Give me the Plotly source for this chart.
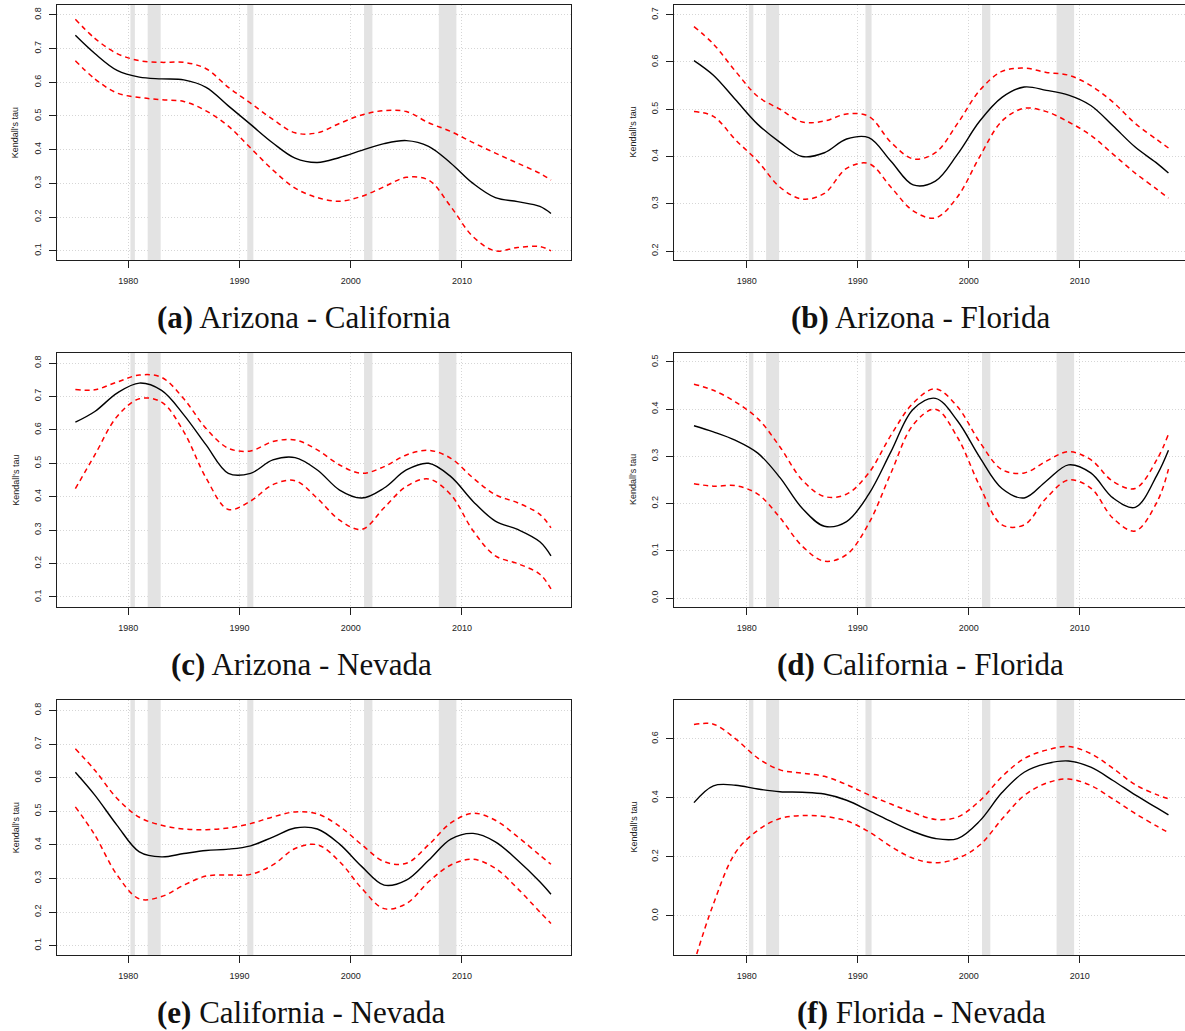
import plotly.graph_objects as go

# ---------------- data ----------------
YEARS = [1975.25, 1977, 1979, 1981, 1983, 1985, 1987, 1989, 1991, 1993, 1995, 1997,
         1999, 2001, 2003, 2005, 2007, 2009, 2011, 2013, 2015, 2017, 2018]

# (a) Arizona - California
TAU_A = [0.739, 0.685, 0.635, 0.615, 0.610, 0.607, 0.585, 0.530, 0.475, 0.420, 0.375, 0.362,
         0.377, 0.398, 0.418, 0.427, 0.410, 0.360, 0.300, 0.258, 0.246, 0.232, 0.211]
UP_A = [0.787, 0.730, 0.685, 0.664, 0.659, 0.659, 0.640, 0.585, 0.538, 0.490, 0.450, 0.450,
        0.478, 0.503, 0.516, 0.513, 0.480, 0.454, 0.421, 0.390, 0.360, 0.330, 0.310]
LO_A = [0.664, 0.610, 0.568, 0.555, 0.548, 0.543, 0.515, 0.470, 0.405, 0.340, 0.286, 0.258,
        0.247, 0.262, 0.290, 0.318, 0.310, 0.231, 0.142, 0.100, 0.110, 0.113, 0.100]

# (b) Arizona - Florida
TAU_B = [0.603, 0.572, 0.520, 0.468, 0.430, 0.400, 0.408, 0.437, 0.440, 0.390, 0.340, 0.348,
         0.405, 0.475, 0.525, 0.547, 0.540, 0.530, 0.508, 0.465, 0.420, 0.385, 0.365]
UP_B = [0.675, 0.638, 0.580, 0.527, 0.500, 0.473, 0.475, 0.490, 0.485, 0.430, 0.395, 0.408,
        0.470, 0.540, 0.580, 0.587, 0.578, 0.572, 0.550, 0.515, 0.470, 0.435, 0.418]
LO_B = [0.495, 0.485, 0.435, 0.390, 0.335, 0.310, 0.322, 0.375, 0.385, 0.335, 0.285, 0.270,
        0.315, 0.400, 0.475, 0.502, 0.495, 0.473, 0.445, 0.405, 0.365, 0.330, 0.312]

# (c) Arizona - Nevada
TAU_C = [0.623, 0.655, 0.710, 0.740, 0.718, 0.645, 0.555, 0.470, 0.470, 0.510, 0.517, 0.480,
         0.420, 0.396, 0.426, 0.480, 0.500, 0.460, 0.386, 0.327, 0.302, 0.265, 0.223]
UP_C = [0.721, 0.720, 0.743, 0.764, 0.757, 0.693, 0.604, 0.545, 0.537, 0.565, 0.570, 0.540,
        0.495, 0.470, 0.490, 0.525, 0.539, 0.515, 0.456, 0.406, 0.382, 0.347, 0.307]
LO_C = [0.424, 0.525, 0.640, 0.693, 0.683, 0.594, 0.456, 0.362, 0.387, 0.436, 0.448, 0.395,
        0.330, 0.302, 0.367, 0.431, 0.453, 0.406, 0.298, 0.223, 0.200, 0.168, 0.124]

# (d) California - Florida
TAU_D = [0.365, 0.352, 0.334, 0.307, 0.255, 0.190, 0.152, 0.162, 0.220, 0.310, 0.400, 0.423,
         0.375, 0.298, 0.232, 0.212, 0.248, 0.282, 0.265, 0.212, 0.192, 0.262, 0.313]
UP_D = [0.453, 0.440, 0.415, 0.380, 0.320, 0.250, 0.215, 0.220, 0.265, 0.345, 0.413, 0.443,
        0.405, 0.330, 0.272, 0.265, 0.290, 0.310, 0.293, 0.247, 0.232, 0.295, 0.347]
LO_D = [0.242, 0.237, 0.238, 0.220, 0.170, 0.110, 0.078, 0.092, 0.158, 0.265, 0.367, 0.400,
        0.340, 0.237, 0.155, 0.155, 0.212, 0.250, 0.233, 0.169, 0.142, 0.205, 0.273]

# (e) California - Nevada
TAU_E = [0.616, 0.548, 0.458, 0.379, 0.364, 0.374, 0.383, 0.387, 0.397, 0.423, 0.450, 0.447,
         0.402, 0.335, 0.280, 0.295, 0.354, 0.417, 0.434, 0.409, 0.354, 0.290, 0.253]
UP_E = [0.686, 0.622, 0.538, 0.482, 0.458, 0.447, 0.445, 0.450, 0.463, 0.483, 0.498, 0.492,
        0.455, 0.400, 0.350, 0.345, 0.400, 0.465, 0.494, 0.473, 0.424, 0.369, 0.342]
LO_E = [0.513, 0.429, 0.310, 0.239, 0.246, 0.280, 0.307, 0.310, 0.312, 0.340, 0.389, 0.400,
        0.350, 0.270, 0.210, 0.225, 0.290, 0.340, 0.357, 0.330, 0.270, 0.200, 0.166]

# (f) Florida - Nevada
TAU_F = [0.384, 0.441, 0.443, 0.430, 0.421, 0.419, 0.413, 0.392, 0.357, 0.320, 0.286, 0.262,
         0.262, 0.322, 0.418, 0.487, 0.516, 0.525, 0.504, 0.459, 0.410, 0.365, 0.342]
UP_F = [0.649, 0.650, 0.600, 0.535, 0.495, 0.484, 0.473, 0.445, 0.410, 0.379, 0.350, 0.327,
        0.335, 0.390, 0.472, 0.533, 0.562, 0.574, 0.550, 0.500, 0.445, 0.410, 0.397]
LO_F = [-0.160, 0.040, 0.215, 0.290, 0.330, 0.340, 0.337, 0.322, 0.285, 0.235, 0.195, 0.180,
        0.195, 0.240, 0.328, 0.408, 0.450, 0.464, 0.442, 0.396, 0.347, 0.303, 0.282]

# recession periods (grey bands)
REC_START = [1980.2, 1981.75, 1990.7, 2001.2, 2007.92]
REC_END = [1980.6, 1982.92, 1991.25, 2001.95, 2009.5]

X_TICKS = [1980, 1990, 2000, 2010]
Y_TICKS_A = [0.1, 0.2, 0.3, 0.4, 0.5, 0.6, 0.7, 0.8]
Y_TICKS_B = [0.2, 0.3, 0.4, 0.5, 0.6, 0.7]
Y_TICKS_C = [0.1, 0.2, 0.3, 0.4, 0.5, 0.6, 0.7, 0.8]
Y_TICKS_D = [0.0, 0.1, 0.2, 0.3, 0.4, 0.5]
Y_TICKS_E = [0.1, 0.2, 0.3, 0.4, 0.5, 0.6, 0.7, 0.8]
Y_TICKS_F = [0.0, 0.2, 0.4, 0.6]

LABELS = ["a", "b", "c", "d", "e", "f"]
TITLES = ["Arizona - California", "Arizona - Florida", "Arizona - Nevada",
          "California - Florida", "California - Nevada", "Florida - Nevada"]
Y_LABEL = "Kendall's tau"

# ---------------- layout geometry ----------------
W, H = 1185, 1031
panels = [
    (TAU_A, UP_A, LO_A, Y_TICKS_A, [0.073, 0.829]),
    (TAU_B, UP_B, LO_B, Y_TICKS_B, [0.181, 0.7206]),
    (TAU_C, UP_C, LO_C, Y_TICKS_C, [0.070, 0.830]),
    (TAU_D, UP_D, LO_D, Y_TICKS_D, [-0.019, 0.519]),
    (TAU_E, UP_E, LO_E, Y_TICKS_E, [0.072, 0.831]),
    (TAU_F, UP_F, LO_F, Y_TICKS_F, [-0.133, 0.732]),
]
col_px = [(57, 571), (674, 1185)]
col_xrange = [[1973.6, 2019.8], [1973.45, 2019.49]]
row_px = [(5, 260), (353, 607), (700, 955)]
caption_px = [(304, 318), (920, 318), (301, 664), (920, 664), (301, 1012), (921, 1012)]
ytitle_x = [15.7, 633]

fig = go.Figure()
annotations = []
BOX = "#1f1f1f"
FONT_SANS = "Liberation Sans, Arial, sans-serif"

for i, (tau, up, lo, yt, yr) in enumerate(panels):
    r, c = divmod(i, 2)
    n = "" if i == 0 else str(i + 1)
    xa, ya = "x" + n, "y" + n
    x0, x1 = col_px[c]
    top, bot = row_px[r]
    common_ax = dict(showline=True, mirror=True, linecolor=BOX, linewidth=1.2,
                     ticks="outside", ticklen=7, tickwidth=1, tickcolor=BOX,
                     showgrid=True, gridcolor="#d6d6d6", griddash="1px,2px", gridwidth=1,
                     zeroline=False, layer="above traces",
                     tickfont=dict(family=FONT_SANS, size=9, color="#222"))
    fig.layout["xaxis" + n] = dict(common_ax, domain=[x0 / W, x1 / W], anchor=ya,
                                   range=col_xrange[c], tickmode="array", tickvals=X_TICKS,
                                   ticktext=[str(v) for v in X_TICKS], ticklabelstandoff=5)
    fig.layout["yaxis" + n] = dict(common_ax, domain=[1 - bot / H, 1 - top / H], anchor=xa,
                                   range=yr, tickmode="array", tickvals=yt,
                                   ticktext=["%.1f" % v for v in yt], tickangle=-90,
                                   ticklabelstandoff=4)
    # recession bands as bars spanning the full panel height (above grid, below lines)
    fig.add_trace(go.Bar(x=[(s + e) / 2 for s, e in zip(REC_START, REC_END)],
                         width=[e - s for s, e in zip(REC_START, REC_END)],
                         y=[yr[1] - yr[0]] * len(REC_START), base=yr[0],
                         xaxis=xa, yaxis=ya, marker=dict(color="#e3e3e3", line=dict(width=0)),
                         showlegend=False, hoverinfo="skip"))
    for band in (up, lo):
        fig.add_trace(go.Scatter(x=YEARS, y=band, mode="lines", xaxis=xa, yaxis=ya,
                                 line=dict(color="#ff0000", width=1.5, dash="5px,4px",
                                           shape="spline", smoothing=1.0),
                                 showlegend=False, hoverinfo="skip"))
    fig.add_trace(go.Scatter(x=YEARS, y=tau, mode="lines", xaxis=xa, yaxis=ya,
                             line=dict(color="#000000", width=1.4,
                                       shape="spline", smoothing=1.0), showlegend=False))
    cx, cy = caption_px[i]
    annotations.append(dict(xref="paper", yref="paper", x=cx / W, y=1 - cy / H,
                            xanchor="center", yanchor="middle", showarrow=False,
                            text="<b>(%s)</b> %s" % (LABELS[i], TITLES[i]),
                            font=dict(family="Liberation Serif, Times New Roman, serif",
                                      size=31, color="#111")))
    annotations.append(dict(xref="paper", yref="paper", x=ytitle_x[c] / W,
                            y=1 - (top + bot) / 2 / H, xanchor="center", yanchor="middle",
                            showarrow=False, textangle=-90, text=Y_LABEL,
                            font=dict(family=FONT_SANS, size=9, color="#222")))

fig.update_layout(width=W, height=H, margin=dict(l=0, r=0, t=0, b=0),
                  paper_bgcolor="white", plot_bgcolor="white", barmode="overlay",
                  annotations=annotations, showlegend=False)
fig.write_html("out.html")
